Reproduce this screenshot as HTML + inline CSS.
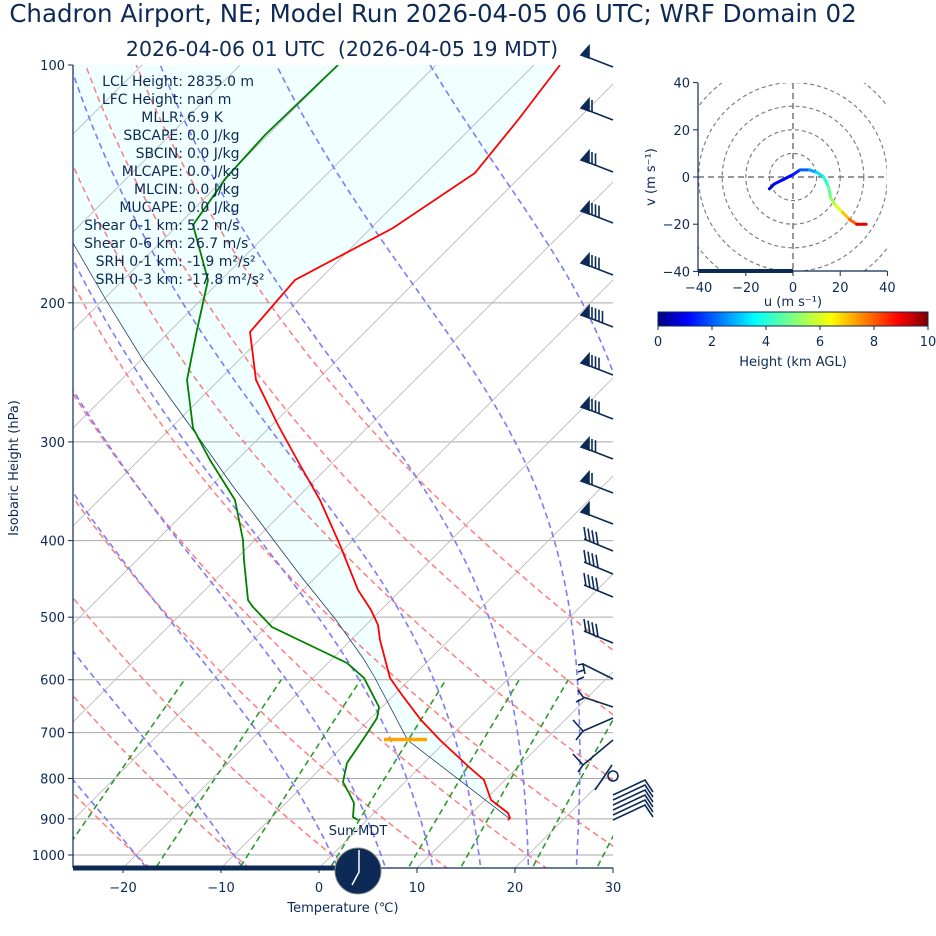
<!DOCTYPE html>
<html><head><meta charset="utf-8"><style>
body{margin:0;background:#fff;}
svg{display:block;font-family:"DejaVu Sans","Liberation Sans",sans-serif;}
</style></head><body>
<svg id="s" width="936" height="936" viewBox="0 0 936 936" xmlns="http://www.w3.org/2000/svg">
<defs>
<clipPath id="pc"><rect x="73" y="65" width="540" height="803"/></clipPath>
<clipPath id="hc"><rect x="698" y="83" width="189" height="188"/></clipPath>
<linearGradient id="cb" x1="0" x2="1" y1="0" y2="0">
<stop offset="0" stop-color="#00007f"/><stop offset="0.11" stop-color="#0000ff"/><stop offset="0.36" stop-color="#00ffff"/><stop offset="0.5" stop-color="#7fff7f"/><stop offset="0.64" stop-color="#ffff00"/><stop offset="0.89" stop-color="#ff0000"/><stop offset="1" stop-color="#7f0000"/>
</linearGradient>
</defs>
<text x="433" y="22" font-size="24.5" fill="#0c2a55" text-anchor="middle">Chadron Airport, NE; Model Run 2026-04-05 06 UTC; WRF Domain 02</text>
<text x="342" y="56" font-size="20.5" fill="#0c2a55" text-anchor="middle">2026-04-06 01 UTC&#160;&#160;(2026-04-05 19 MDT)</text>
<g id="plot" clip-path="url(#pc)"></g>
<g id="over"></g>
</svg>
<script>
var NS="http://www.w3.org/2000/svg";
function Y(p){return 65+790*Math.log10(p/100);}
function X(T,p){return 319+9.8*T+(868-Y(p));}
var plot=document.getElementById('plot'),over=document.getElementById('over');
function el(par,tag,a,txt){var e=document.createElementNS(NS,tag);for(var k in a)e.setAttribute(k,a[k]);if(txt!=null)e.textContent=txt;par.appendChild(e);return e;}
function pl(par,pts,a){a.points=pts.map(function(q){return q[0].toFixed(1)+","+q[1].toFixed(1)}).join(" ");a.fill=a.fill||"none";return el(par,'polyline',a);}
var temp=[[560,65],[518,120],[475,173],[393,228],[295,280],[250,332],[256,380],[278,425],[300,465],[320,500],[340,545],[358,590],[371,610],[378,625],[380,640],[390,678],[402,695],[421,720],[440,740],[469,767],[484,780],[491,800],[508,813],[510,818],[508,820]];
var parcel=[[510,819],[410,742],[406,737],[375,678],[363,658],[336,620],[300,575],[266,530],[232,485],[201,441],[170,398],[143,360],[106,300],[73,243]];
var fillp=temp.concat(parcel).concat([[73,65]]);
el(plot,'polygon',{points:fillp.map(function(q){return q.join(",")}).join(" "),fill:"#f0ffff"});
[200,300,400,500,600,700,800,900,1000].forEach(function(p){el(plot,'line',{x1:73,x2:613,y1:Y(p),y2:Y(p),stroke:"#aaa","stroke-width":1});});
for(var T=-120;T<=30;T+=10){var x0=319+9.8*T;el(plot,'line',{x1:x0,y1:868,x2:x0+803,y2:65,stroke:"#bbb","stroke-width":0.9});}
for(var th=-100;th<=60;th+=10){var pts=[];for(var p=1060;p>=95;p-=10){var t=(th+273.15)*Math.pow(p/1000,0.2857)-273.15;pts.push([X(t,p),Y(p)]);}pl(plot,pts,{stroke:"#ff6f6f","stroke-width":1.5,"stroke-dasharray":"6,4",opacity:0.9});}
function es(t){return 6.112*Math.exp(17.67*t/(t+243.5));}
function dTdp(t,p){var T=t+273.15,e=es(t),rs=0.622*e/(p-e),L=2.501e6,Rd=287.04,cp=1005.7,eps=0.622;
return (Rd*T+L*rs)/(cp+L*L*rs*eps/(Rd*T*T))/p;}
[-20,-10,0,5,10,15,20,25,30,35].forEach(function(t0){
 var t=t0,p=1000,dp=-5;
 var t2=t0,pp=1000;var low=[];while(pp<1060){t2+=dTdp(t2,pp)*5;pp+=5;low.unshift([X(t2,pp),Y(pp)]);}
 var pts=low.concat([[X(t,p),Y(p)]]);
 while(p>95){t+=dTdp(t,p)*dp;p+=dp;pts.push([X(t,p),Y(p)]);}
 pl(plot,pts,{stroke:"#7b7bff","stroke-width":1.6,"stroke-dasharray":"6,4"});
});
[0.0004,0.001,0.002,0.004,0.007,0.01,0.016,0.024,0.032].forEach(function(w){var pts=[];for(var p=1060;p>=600;p-=20){var e=p*w/(0.622+w),l=Math.log(e/6.112),td=243.5*l/(17.67-l);pts.push([X(td,p),Y(p)]);}
pl(plot,pts,{stroke:"#2e9a2e","stroke-width":1.6,"stroke-dasharray":"6,4"});});
pl(plot,parcel,{stroke:"#0c2a55","stroke-width":0.7});
pl(plot,temp,{stroke:"#ff0000","stroke-width":1.8});
var dew=[[338,65],[291,110],[265,135],[226,178],[193,225],[208,280],[197,330],[191,360],[187,380],[193,428],[210,460],[235,500],[243,540],[244,560],[248,600],[253,607],[272,627],[299,640],[347,663],[364,678],[379,707],[377,718],[366,735],[347,763],[343,782],[349,793],[354,803],[353,817],[358,820]];
pl(plot,dew,{stroke:"#008000","stroke-width":1.8});
el(plot,'line',{x1:384,x2:427,y1:739.5,y2:739.5,stroke:"#ffa500","stroke-width":3.5});
var st=[["LCL Height:","2835.0 m"],["LFC Height:","nan m"],["MLLR:","6.9 K"],["SBCAPE:","0.0 J/kg"],["SBCIN:","0.0 J/kg"],["MLCAPE:","0.0 J/kg"],["MLCIN:","0.0 J/kg"],["MUCAPE:","0.0 J/kg"],["Shear 0-1 km:","5.2 m/s"],["Shear 0-6 km:","26.7 m/s"],["SRH 0-1 km:","-1.9 m²/s²"],["SRH 0-3 km:","-17.8 m²/s²"]];
st.forEach(function(s,i){var y=86+18*i;el(over,'text',{x:183,y:y,"font-size":14,fill:"#0c2a55","text-anchor":"end"},s[0]);el(over,'text',{x:187,y:y,"font-size":14,fill:"#0c2a55"},s[1]);});
// barbs with flags
var fy=[55,108,160,211,263,315,363,407,447,481,512];
var nf=[0,1,2,3,3,4,3,3,2,1,0];
fy.forEach(function(y,i){var g=el(over,'g',{stroke:"#0c2a55","stroke-width":1.6,fill:"#0c2a55"});
 el(g,'line',{x1:582,y1:y,x2:613,y2:y+12});
 el(g,'polygon',{points:"581,"+y+" 589,"+(y-9)+" 589,"+(y+3)});
 for(var k=0;k<nf[i];k++){var bx=592+k*3.5;el(g,'line',{x1:bx,y1:y+4+k*1.3,x2:bx,y2:y-8+k*1.3});}
});
var ny=[539,562,585,631];
ny.forEach(function(y){var g=el(over,'g',{stroke:"#0c2a55","stroke-width":1.6});
 el(g,'line',{x1:584,y1:y,x2:613,y2:y+12});
 for(var k=0;k<4;k++){var bx=586+k*4;el(g,'line',{x1:bx,y1:y+1+k*1.6,x2:bx-2,y2:y-12+k*1.6});}});
// lower barbs
var lb=[[670,"577,664 613,680","580,664 584,668 588,670"],[705,"577,697 613,712",""],[735,"574,728 613,748",""],[770,"575,758 613,775",""]];
var g3=el(over,'g',{stroke:"#0c2a55","stroke-width":1.6,fill:"none"});
el(g3,'polyline',{points:"583,664 613,679"});el(g3,'polyline',{points:"578,665 583,664 585,674"});el(g3,'line',{x1:578,y1:672,x2:584,y2:670});el(g3,'line',{x1:577,y1:680,x2:584,y2:677});
el(g3,'polyline',{points:"583,697 613,707"});el(g3,'polyline',{points:"578,690 583,697"});el(g3,'line',{x1:576,y1:702,x2:584,y2:698});
el(g3,'polyline',{points:"583,731 613,718"});el(g3,'polyline',{points:"573,720 583,731 576,740"});
el(g3,'polyline',{points:"583,765 613,740"});el(g3,'polyline',{points:"573,754 583,765 578,772"});
var g2=el(over,'g',{stroke:"#0c2a55","stroke-width":1.6,fill:"none"});
for(var k=0;k<6;k++){el(g2,'polyline',{points:"613,"+(795+k*5)+" 645,"+(780+k*5)+" 653,"+(792+k*5)});}
el(g2,'circle',{cx:613,cy:776,r:5});
el(g2,'line',{x1:595,y1:790,x2:612,y2:765});
// axes
el(over,'line',{x1:73,y1:65,x2:73,y2:868,stroke:"#0c2a55","stroke-width":1.2});
el(over,'line',{x1:73,y1:868,x2:613,y2:868,stroke:"#0c2a55","stroke-width":1.2});
el(over,'line',{x1:73,y1:868,x2:358,y2:868,stroke:"#0c2a55","stroke-width":5});
[-20,-10,0,10,20,30].forEach(function(T){var x=319+9.8*T;el(over,'line',{x1:x,x2:x,y1:868,y2:873,stroke:"#0c2a55"});el(over,'text',{x:x,y:892,"font-size":13,fill:"#0c2a55","text-anchor":"middle"},T<0?"\u2212"+(-T):T);});
[100,200,300,400,500,600,700,800,900,1000].forEach(function(p){var y=Y(p);el(over,'line',{x1:68,x2:73,y1:y,y2:y,stroke:"#0c2a55"});el(over,'text',{x:65,y:y+5,"font-size":13,fill:"#0c2a55","text-anchor":"end"},p);});
el(over,'text',{x:343,y:912,"font-size":13,fill:"#0c2a55","text-anchor":"middle"},"Temperature (\u2103)");
el(over,'text',{x:18,y:468,"font-size":13,fill:"#0c2a55","text-anchor":"middle",transform:"rotate(-90 18 468)"},"Isobaric Height (hPa)");
el(over,'text',{x:358,y:835,"font-size":13,fill:"#0c2a55","text-anchor":"middle"},"Sun-MDT");
el(over,'circle',{cx:358,cy:871,r:23,fill:"#0c2a55",stroke:"#888","stroke-width":1});
el(over,'polyline',{points:"359,850 359,872 352,885",stroke:"#fff","stroke-width":1.5,fill:"none"});
// hodograph
var hc=el(over,'g',{"clip-path":"url(#hc)"});
var cx=793,cy=177,sc=2.36;
[10,20,30,40,50].forEach(function(r){el(hc,'circle',{cx:cx,cy:cy,r:r*sc,fill:"none",stroke:"#777","stroke-dasharray":"4,3","stroke-width":1.1});});
el(hc,'line',{x1:698,x2:887,y1:cy,y2:cy,stroke:"#777","stroke-width":1.5,"stroke-dasharray":"6,4"});
el(hc,'line',{x1:cx,x2:cx,y1:83,y2:271,stroke:"#777","stroke-width":1.5,"stroke-dasharray":"6,4"});
var hp=[[-10,-5,"#00007f"],[-8,-3,"#0000cc"],[-4,-1,"#0000ff"],[0,1,"#0000ff"],[3,3,"#0020ff"],[7,3,"#0060ff"],[10,2,"#00a0ff"],[13,0,"#00e0ff"],[15,-4,"#20ffd0"],[16,-9,"#60ff90"],[18,-12,"#a0ff50"],[21,-15,"#e0ff10"],[24,-18,"#ffc000"],[27,-20,"#ff6000"],[31,-20,"#e00000"]];
for(var i=1;i<hp.length;i++){el(hc,'line',{x1:cx+hp[i-1][0]*sc,y1:cy-hp[i-1][1]*sc,x2:cx+hp[i][0]*sc,y2:cy-hp[i][1]*sc,stroke:hp[i][2],"stroke-width":3,"stroke-linecap":"round"});}
el(over,'line',{x1:698,y1:83,x2:698,y2:271,stroke:"#0c2a55","stroke-width":1.2});
el(over,'line',{x1:698,y1:271,x2:887,y2:271,stroke:"#0c2a55","stroke-width":1.2});
el(over,'line',{x1:698,y1:271,x2:793,y2:271,stroke:"#0c2a55","stroke-width":4});
[-40,-20,0,20,40].forEach(function(v){var x=cx+v*sc,y=cy-v*sc;var lab=v<0?"\u2212"+(-v):""+v;
el(over,'line',{x1:x,x2:x,y1:271,y2:276,stroke:"#0c2a55"});el(over,'text',{x:x,y:292,"font-size":13,fill:"#0c2a55","text-anchor":"middle"},lab);
el(over,'line',{x1:693,x2:698,y1:y,y2:y,stroke:"#0c2a55"});el(over,'text',{x:690,y:y+5,"font-size":13,fill:"#0c2a55","text-anchor":"end"},lab);});
el(over,'text',{x:793,y:306,"font-size":13,fill:"#0c2a55","text-anchor":"middle"},"u (m s\u207B\u00B9)");
el(over,'text',{x:655,y:177,"font-size":13,fill:"#0c2a55","text-anchor":"middle",transform:"rotate(-90 655 177)"},"v (m s\u207B\u00B9)");
el(over,'rect',{x:658,y:312,width:270,height:14,fill:"url(#cb)",stroke:"#0c2a55","stroke-width":1});
for(var v=0;v<=10;v+=2){var x=658+27*v;el(over,'line',{x1:x,x2:x,y1:326,y2:330,stroke:"#0c2a55"});el(over,'text',{x:x,y:346,"font-size":13,fill:"#0c2a55","text-anchor":"middle"},v);}
el(over,'text',{x:793,y:366,"font-size":13,fill:"#0c2a55","text-anchor":"middle"},"Height (km AGL)");
</script>
</body></html>
